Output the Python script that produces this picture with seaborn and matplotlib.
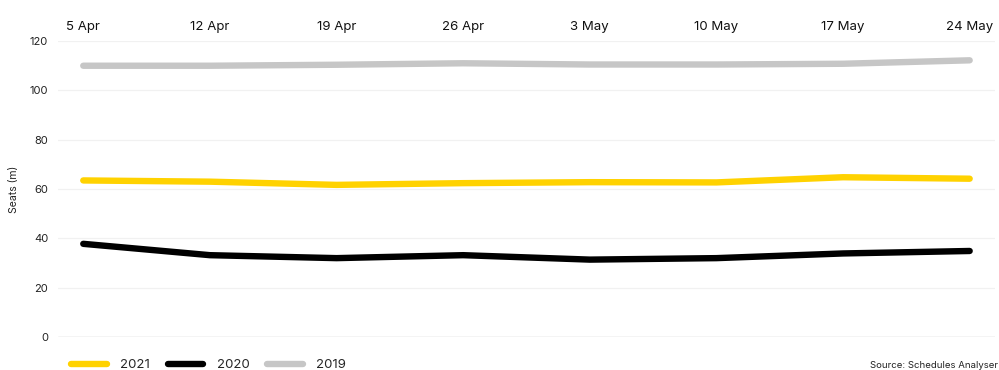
import matplotlib
matplotlib.use("Agg")
import matplotlib.pyplot as plt
import seaborn as sns
import pandas as pd

dates = ["5 Apr", "12 Apr", "19 Apr", "26 Apr", "3 May", "10 May", "17 May", "24 May"]
seats_2021 = [63.5, 63.0, 61.7, 62.4, 62.8, 62.7, 64.8, 64.2]
seats_2020 = [37.8, 33.2, 32.0, 33.2, 31.4, 32.0, 33.9, 34.9]
seats_2019 = [110.0, 110.0, 110.4, 111.0, 110.5, 110.5, 110.8, 112.2]
series_names = ["2021", "2020", "2019"]
colors = ["#FFD200", "#000000", "#C6C6C6"]
yticks = [0, 20, 40, 60, 80, 100, 120]

rows = []
for name, vals in zip(series_names, [seats_2021, seats_2020, seats_2019]):
    for i, (d, v) in enumerate(zip(dates, vals)):
        rows.append({"pos": i, "date": d, "year": name, "seats": v})
df = pd.DataFrame(rows)

sns.set_theme(style="white")
plt.rcParams["font.family"] = ["Inter", "DejaVu Sans"]

fig = plt.figure(figsize=(9.99, 3.70), dpi=100)
ax = fig.add_axes([0.058, 0.089, 0.938, 0.800])

sns.lineplot(data=df, x="pos", y="seats", hue="year", hue_order=series_names,
             palette=colors, linewidth=4.6, ax=ax, legend=False,
             solid_capstyle="round")

ax.set_xlim(-0.2, 7.2)
ax.set_ylim(0, 120)
ax.set_yticks(yticks)
ax.set_yticklabels([str(t) for t in yticks], fontsize=8, color="#222222")
ax.set_xticks(range(len(dates)))
ax.set_xticklabels(dates, fontsize=9.5, color="#111111")
ax.xaxis.tick_top()
ax.tick_params(axis="x", length=0, pad=6)
ax.tick_params(axis="y", length=0, pad=7)
ax.set_xlabel("")
ax.set_ylabel("Seats (m)", fontsize=7.5, color="#222222", labelpad=8)

for t in yticks[1:]:
    ax.axhline(t, color="#F1F1F1", linewidth=0.9, zorder=0)
ax.axhline(0, color="#C8C8C8", linewidth=1.0, zorder=0)
for s in ax.spines.values():
    s.set_visible(False)

from matplotlib.lines import Line2D
handles = [Line2D([0], [0], color=c, linewidth=4.6, solid_capstyle="round") for c in colors]
fig.legend(handles, series_names, loc="center left", bbox_to_anchor=(0.071, 0.0135),
           ncol=3, frameon=False, fontsize=9.5, handlelength=2.7, handletextpad=1.03,
           columnspacing=1.33, borderpad=0, borderaxespad=0)

fig.text(0.871, 0.0135, "Source: Schedules Analyser", ha="left", va="center",
         fontsize=6.9, color="#222222")

fig.savefig("out.png", dpi=100)
